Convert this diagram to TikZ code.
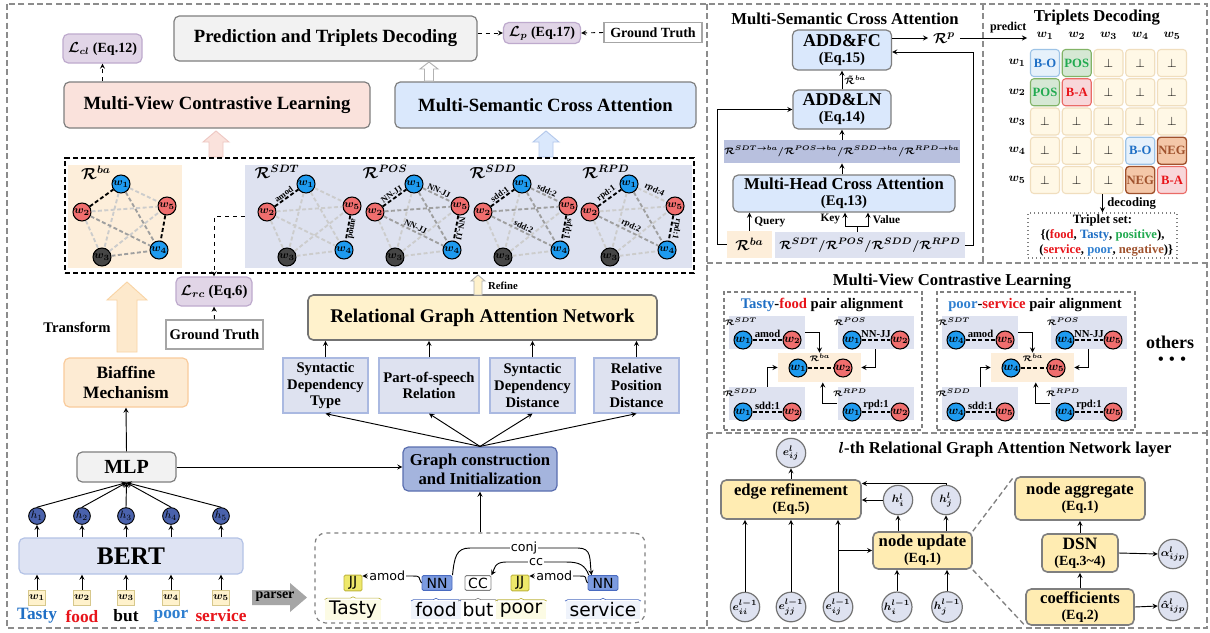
\documentclass[tikz,border=0pt]{standalone}
\usepackage{amsmath,amssymb,bm}
\usepackage{fontspec}
\setmainfont{Liberation Serif}
\newfontfamily\parsefont{DejaVu Sans}
\usepackage{tikz}
\usetikzlibrary{arrows, positioning, decorations.pathreplacing}

\definecolor{boxgray}{RGB}{127,127,127}
\definecolor{panelgray}{RGB}{140,140,140}
\definecolor{predgray}{RGB}{242,242,242}
\definecolor{losspurple}{RGB}{225,213,231}
\definecolor{lossborder}{RGB}{190,170,205}
\definecolor{mvclpink}{RGB}{250,226,220}
\definecolor{pinkborder}{RGB}{238,200,195}
\definecolor{mscablue}{RGB}{218,232,252}
\definecolor{blueborder}{RGB}{180,200,235}
\definecolor{baorange}{RGB}{253,238,218}
\definecolor{relblue}{RGB}{222,226,240}
\definecolor{featborder}{RGB}{170,185,225}
\definecolor{rgatyellow}{RGB}{255,242,204}
\definecolor{gcblue}{RGB}{164,180,221}
\definecolor{gcborder}{RGB}{90,110,175}
\definecolor{barblue}{RGB}{184,192,222}
\definecolor{wblue}{RGB}{30,155,240}
\definecolor{wred}{RGB}{240,110,110}
\definecolor{wdark}{RGB}{70,70,70}
\definecolor{hblue}{RGB}{74,98,172}
\definecolor{wyellow}{RGB}{255,242,204}
\definecolor{wyborder}{RGB}{215,200,140}
\definecolor{bertblue}{RGB}{222,227,243}
\definecolor{bertborder}{RGB}{180,195,230}
\definecolor{biorange}{RGB}{253,235,211}
\definecolor{bioborder}{RGB}{249,203,156}
\definecolor{transorange}{RGB}{253,233,204}
\definecolor{transborder}{RGB}{249,212,165}
\definecolor{parsergray}{RGB}{166,166,166}
\definecolor{jjyellow}{RGB}{238,232,107}
\definecolor{jjborder}{RGB}{190,180,60}
\definecolor{nnblue}{RGB}{124,155,224}
\definecolor{nnborder}{RGB}{74,107,192}
\definecolor{tastyblue}{RGB}{31,111,197}
\definecolor{foodred}{RGB}{232,20,26}
\definecolor{poorblue}{RGB}{47,127,208}
\definecolor{posgreen}{RGB}{33,170,80}
\definecolor{negbrown}{RGB}{160,82,45}
\definecolor{negfill}{RGB}{244,199,168}
\definecolor{cellfill}{RGB}{255,248,230}
\definecolor{cellborder}{RGB}{240,222,190}
\definecolor{bofill}{RGB}{230,241,251}
\definecolor{boborder}{RGB}{157,195,230}
\definecolor{posfill}{RGB}{213,232,212}
\definecolor{posborder}{RGB}{130,179,102}
\definecolor{bafill}{RGB}{248,215,218}
\definecolor{baborder}{RGB}{234,107,102}
\definecolor{layeryellow}{RGB}{255,236,178}

\newcommand\fsz[2]{\fontsize{#1}{#2}\selectfont\bfseries}
\newcommand\fszm[2]{\fontsize{#1}{#2}\selectfont\bfseries\boldmath}
\newcommand\msz[2]{\fontsize{#1}{#2}\selectfont\boldmath}
\newcommand\RR[1]{\mathcal{R}^{#1}}

% box size given in pixels of the reference
\tikzset{sz/.style 2 args = {minimum width = #1*0.75pt, minimum height = #2*0.75pt}}

% hollow block arrow pointing up: style, x, tip, foot, half shaft, half head, head length
\newcommand\hollowup[7]{%
  \filldraw[#1] (#2-#5,#4) -- (#2-#5,#3+#7) -- (#2-#6,#3+#7) -- (#2,#3)
    -- (#2+#6,#3+#7) -- (#2+#5,#3+#7) -- (#2+#5,#4) -- cycle;}

% the five word nodes of one relation graph (#1 name prefix, #2 x of w2)
\newcommand\wgraph[2]{%
  \node[wn, fill=wblue] (#11) at (#2+39,184) {$w_1$};
  \node[wn, fill=wred]  (#12) at (#2,212)    {$w_2$};
  \node[wn, fill=wdark] (#13) at (#2+20,257) {$w_3$};
  \node[wn, fill=wblue] (#14) at (#2+77,250) {$w_4$};
  \node[wn, fill=wred]  (#15) at (#2+85,206) {$w_5$};}

\begin{document}
\begin{tikzpicture}[
    x = 0.75pt, y = -0.75pt, % one unit is one pixel, y grows downwards
    > = stealth, % arrow head style
    line width = 0.7pt,
    box/.style = {draw = boxgray, rounded corners = 4pt, line width = 0.9pt,
      align = center, inner sep = 0pt},
    gt/.style = {draw = gray!70, fill = white, line width = 1.2pt, inner sep = 0pt},
    panel/.style = {draw = panelgray, line width = 1.2pt, dash pattern = on 4.5pt off 2.5pt},
    subbox/.style = {draw = gray, line width = 1pt, dash pattern = on 3pt off 2pt, inner sep = 0pt},
    wn/.style = {circle, draw = black, line width = 0.8pt, minimum size = 13.5pt,
      inner sep = 0pt, font = \msz{8.5}{9}},
    mn/.style = {wn, minimum size = 13.5pt, font = \msz{9}{10}},
    hn/.style = {circle, draw = black, fill = hblue, minimum size = 12.5pt, inner sep = 0pt,
      font = \fontsize{8.5}{9}\selectfont},
    wbox/.style = {draw = wyborder, fill = wyellow, minimum width = 12.75pt,
      minimum height = 11.25pt, inner sep = 0pt, font = \msz{8}{9}},
    eLite/.style = {draw = gray!40, line width = 1.4pt, dash pattern = on 3pt off 1.8pt},
    eMid/.style = {eLite, draw = gray!75},
    eDark/.style = {eLite, draw = black},
    elab/.style = {font = \fsz{6.5}{7}, sloped, above, inner sep = 0.6pt},
    feat/.style = {draw = featborder, fill = relblue, line width = 0.9pt, minimum width = 63.75pt,
      minimum height = 41.25pt, align = center, inner sep = 0pt, font = \fsz{11}{12.5}},
    postag/.style = {draw, inner sep = 1pt, minimum height = 11pt, rounded corners = 1pt,
      font = \parsefont\fontsize{10.5}{11}\selectfont},
    wordlbl/.style = {inner xsep = 3pt, inner ysep = 1pt, font = \parsefont\fontsize{14}{15}\selectfont},
    parselbl/.style = {fill = white, inner sep = 0.8pt, font = \parsefont\fontsize{9.5}{10}\selectfont},
    tcell/.style = {draw = cellborder, fill = cellfill, rounded corners = 2.5pt, minimum width = 21.75pt,
      minimum height = 20.25pt, inner sep = 0pt, line width = 0.8pt, font = \fsz{9.5}{10}},
    minibg/.style = {fill = relblue, minimum width = 57pt, minimum height = 24.75pt, inner sep = 0pt},
    lbox/.style = {box, fill = layeryellow, line width = 1.2pt},
    circ/.style = {circle, draw = gray!90!black, fill = relblue, line width = 0.9pt,
      minimum size = 22pt, inner sep = 0pt, font = \msz{8.5}{9}}
  ]

  \path[use as bounding box, fill = white] (0,0) rectangle (1210,632);

  % panels
  \draw[panel] (7,4) rectangle (1207,628);
  \draw[panel] (707,4) -- (707,628) (707,263) -- (1207,263) (707,433) -- (1207,433)
    (983,4) -- (983,263);

  % top row of the left panel
  \node[box, sz = {79}{29}, fill = losspurple, draw = lossborder, font = \fszm{10.5}{12}] (lcl)
    at (102.5,48.5) {$\mathcal{L}_{cl}$ (Eq.12)};
  \node[box, sz = {303}{45}, fill = predgray, font = \fsz{14}{16}] (pred)
    at (325.5,38.5) {Prediction and Triplets Decoding};
  \node[box, sz = {77}{21}, fill = losspurple, draw = lossborder, font = \fszm{10.5}{12}] (lp)
    at (542,33) {$\mathcal{L}_{p}$ (Eq.17)};
  \node[gt, sz = {98}{20}, font = \fsz{10.5}{12}] (gttop) at (653,32.5) {Ground Truth};
  \draw[->, dashed] (pred.east |- lp.west) -- (lp.west);
  \draw[->, dashed] (gttop.west) -- (lp.east);

  \node[box, sz = {306}{46}, fill = mvclpink, font = \fsz{14}{16}] (mvcl)
    at (217,105) {Multi-View Contrastive Learning};
  \node[box, sz = {301}{46}, fill = mscablue, font = \fsz{14}{16}] (msca)
    at (545.5,105) {Multi-Semantic Cross Attention};
  \draw[->, dashed] (lcl |- mvcl.north) -- (lcl.south);
  \hollowup{fill = white, draw = gray!60}{429}{62}{81}{4.5}{9}{7}
  \hollowup{fill = mvclpink, draw = pinkborder}{216}{131}{157}{7}{13}{11}
  \hollowup{fill = mscablue, draw = blueborder}{546}{131}{157}{7}{13}{11}

  % relation graphs
  \node[fill = baorange, sz = {114}{103}, inner sep = 0pt] (babg) at (125,216.5) {};
  \node[fill = relblue, sz = {447}{103}, inner sep = 0pt] (relbg) at (468.5,216.5) {};
  \node[draw = black, dash pattern = on 4pt off 2pt, line width = 1.1pt, sz = {629}{115},
    inner sep = 0pt] (strip) at (379.5,215.5) {};

  \wgraph{ba}{82}
  \wgraph{sdt}{267}
  \wgraph{pos}{375}
  \wgraph{sdd}{483}
  \wgraph{rpd}{590}

  \node[font = \msz{11.5}{12}] (lba) at (96,173) {$\RR{ba}$};
  \node[font = \msz{11.5}{12}] (lsdt) at (277,172) {$\RR{SDT}$};
  \node[font = \msz{11.5}{12}] (lpos) at (385,172) {$\RR{POS}$};
  \node[font = \msz{11.5}{12}] (lsdd) at (493,172) {$\RR{SDD}$};
  \node[font = \msz{11.5}{12}] (lrpd) at (606,172) {$\RR{RPD}$};

  \draw[eLite] (ba1) -- (ba3) (ba1) -- (ba5) (ba2) -- (ba3) (ba2) -- (ba5) (ba3) -- (ba5);
  \draw[eMid] (ba1) -- (ba4) (ba2) -- (ba4) (ba3) -- (ba4);
  \draw[eDark] (ba2) -- (ba1) (ba5) -- (ba4);

  \draw[eLite] (sdt1) -- (sdt3) (sdt1) -- (sdt4) (sdt1) -- (sdt5) (sdt2) -- (sdt3)
    (sdt2) -- (sdt4) (sdt2) -- (sdt5) (sdt3) -- (sdt4) (sdt3) -- (sdt5);
  \draw[eDark] (sdt2) -- node[elab] {amod} (sdt1)
    (sdt5) -- node[elab, allow upside down] {amod} (sdt4);

  \draw[eLite] (pos1) -- (pos3) (pos2) -- (pos3) (pos3) -- (pos4) (pos3) -- (pos5);
  \draw[eMid] (pos1) -- (pos4) (pos2) -- (pos5)
    (pos1) -- node[elab] {NN-JJ} (pos5) (pos2) -- node[elab] {NN-JJ} (pos4);
  \draw[eDark] (pos2) -- node[elab] {NN-JJ} (pos1)
    (pos5) -- node[elab, allow upside down] {NN-JJ} (pos4);

  \draw[eLite] (sdd1) -- (sdd3) (sdd2) -- (sdd3) (sdd3) -- (sdd4) (sdd3) -- (sdd5);
  \draw[eMid] (sdd1) -- (sdd4) (sdd2) -- (sdd5)
    (sdd1) -- node[elab] {sdd:2} (sdd5) (sdd2) -- node[elab] {sdd:2} (sdd4);
  \draw[eDark] (sdd2) -- node[elab] {sdd:1} (sdd1)
    (sdd5) -- node[elab, allow upside down] {sdd:1} (sdd4);

  \draw[eLite] (rpd1) -- (rpd3) (rpd2) -- (rpd3) (rpd3) -- (rpd4) (rpd3) -- (rpd5)
    (rpd2) -- (rpd5) (rpd1) -- node[elab] {rpd:4} (rpd5);
  \draw[eMid] (rpd1) -- (rpd4) (rpd2) -- node[elab] {rpd:2} (rpd4);
  \draw[eDark] (rpd2) -- node[elab] {rpd:1} (rpd1)
    (rpd5) -- node[elab, allow upside down] {rpd:1} (rpd4);

  % losses under the graphs
  \node[box, sz = {76}{29}, fill = losspurple, draw = lossborder, font = \fszm{11}{12}] (lrc)
    at (214,291.5) {$\mathcal{L}_{rc}$ (Eq.6)};
  \node[gt, sz = {97}{29}, font = \fsz{11}{12}] (gtmid) at (214.5,334.5) {Ground Truth};
  \draw[->, dashed] (gtmid.north) -- (lrc.south);
  \draw[->, dashed] (relbg.west) -| (lrc.north);

  % encoder column
  \hollowup{fill = transorange, draw = transborder}{127}{282}{352}{10}{20}{18}
  \node[font = \fsz{11}{12}] (transform) at (77,327) {Transform};
  \node[box, sz = {124}{49}, fill = biorange, draw = bioborder, font = \fsz{13}{15}] (biaf)
    at (126,382.5) {Biaffine\\Mechanism};
  \node[box, sz = {99}{30}, fill = predgray, font = \fsz{15}{16}] (mlp) at (126.5,467) {MLP};
  \draw[->] (mlp.north) -- (biaf.south);
  \node[box, sz = {224}{36}, fill = bertblue, draw = bertborder, font = \fsz{19}{20}] (bert)
    at (131,556) {BERT};

  \foreach \i/\x in {1/37, 2/82, 3/126, 4/171, 5/221} {
    \node[hn] (h\i) at (\x,516) {$h_\i$};
    \node[wbox] (w\i) at (\x,597.5) {$w_\i$};
    \draw[->] (h\i.north) -- (mlp.south);
    \draw[->] (bert.north -| h\i) -- (h\i.south);
    \draw[->] (w\i.north) -- (w\i |- bert.south);
  }
  \node[font = \fsz{13}{14}, text = tastyblue] (t1) at (37,616) {Tasty};
  \node[font = \fsz{13}{14}, text = foodred] (t2) at (82,616) {food};
  \node[font = \fsz{13}{14}] (t3) at (126,616) {but};
  \node[font = \fsz{13}{14}, text = poorblue] (t4) at (171,616) {poor};
  \node[font = \fsz{13}{14}, text = foodred] (t5) at (221,616) {service};

  \fill[parsergray] (252,590) -- (290,590) -- (290,583) -- (307,597.5) -- (290,612)
    -- (290,605) -- (252,605) -- cycle;
  \node[font = \fsz{10.5}{12}] (parser) at (275,597) {parser};

  % graph branch
  \node[box, sz = {349}{45}, fill = rgatyellow, draw = gray!90!black, line width = 1.2pt,
    font = \fsz{14.5}{16}] (rgat) at (482.5,317.5) {Relational Graph Attention Network};
  \hollowup{fill = rgatyellow, draw = gray!60}{478}{275}{295}{4}{7}{6}
  \node[font = \fsz{8}{9}] (refine) at (503,286) {Refine};

  \node[feat] (fsdt) at (325.5,385.5) {Syntactic\\Dependency\\Type};
  \node[feat, minimum width = 75pt] (fpos) at (429,385.5) {Part-of-speech\\Relation};
  \node[feat] (fsdd) at (532.5,385.5) {Syntactic\\Dependency\\Distance};
  \node[feat] (frpd) at (636.5,385.5) {Relative\\Position\\Distance};
  \node[box, sz = {154}{44}, fill = gcblue, draw = gcborder, font = \fsz{12.5}{14}] (gc)
    at (480,469) {Graph construction\\and Initialization};
  \foreach \f in {fsdt, fpos, fsdd, frpd} {
    \draw[->] (\f.north) -- (\f.north |- rgat.south);
    \draw[->] (gc.north) -- (\f.south);
  }
  \draw[->] (mlp.east) -- (gc.west |- mlp.east);

  % dependency parse
  \node[draw = gray, dashed, rounded corners = 8pt, line width = 0.9pt, sz = {330}{90},
    inner sep = 0pt] (parse) at (480,578) {};
  \draw[->] (parse.north) -- (gc.south);
  \node[postag, fill = jjyellow, draw = jjborder, minimum width = 13.5pt] (jj1) at (353,583) {JJ};
  \node[postag, fill = nnblue, draw = nnborder, minimum width = 22.5pt] (nn1) at (437,583) {NN};
  \node[postag, fill = white, draw = gray, minimum width = 19.5pt] (cc) at (478,583) {CC};
  \node[postag, fill = jjyellow, draw = jjborder, minimum width = 13.5pt] (jj2) at (520,583) {JJ};
  \node[postag, fill = nnblue, draw = nnborder, minimum width = 22.5pt] (nn2) at (603,583) {NN};
  \node[wordlbl, fill = jjyellow!18] (pw1) at (353,610) {Tasty};
  \node[wordlbl, fill = nnblue!12] (pw2) at (436,610) {food};
  \node[wordlbl] (pw3) at (478,610) {but};
  \node[wordlbl, fill = jjyellow!18] (pw4) at (521,610) {poor};
  \node[wordlbl, fill = nnblue!12] (pw5) at (603,610) {service};
  \foreach \p/\c in {pw1/jjborder, pw2/nnborder, pw3/gray, pw4/jjborder, pw5/nnborder}
    \draw[\c, line width = 0.5pt, decorate, decoration = {brace, amplitude = 2pt}]
      (\p.north west) -- (\p.north east);
  \draw[->] (nn1.west) .. controls +(-4,-6) and +(10,0) .. (412,576)
    -- node[parselbl] {amod} (jj1.east |- 0,576);
  \draw[->] (nn2.west) .. controls +(-4,-6) and +(10,0) .. (579,576)
    -- node[parselbl] {amod} (jj2.east |- 0,576);
  \draw[->] (nn1.north east) .. controls +(2,-18) and +(-14,0) .. (470,548)
    -- node[parselbl] {conj} (578,548) .. controls +(14,0) and +(-2,-16) .. ([xshift = 3pt]nn2.north west);
  \draw[->] ([xshift = 1pt]nn2.north west) .. controls +(-4,-10) and +(14,0) .. (566,562)
    -- node[parselbl] {cc} (506,562) .. controls +(-12,0) and +(3,-6) .. (cc.north east);

  % multi-semantic cross attention panel
  \node[font = \fsz{12.5}{14}] (mscat) at (845,19) {Multi-Semantic Cross Attention};
  \node[box, sz = {99}{40}, fill = mscablue] (addfc) at (842,50)
    {\fsz{13.5}{14}ADD\&FC\\\fsz{11}{13}(Eq.15)};
  \node[box, sz = {98}{39}, fill = mscablue] (addln) at (842,109.5)
    {\fsz{13.5}{14}ADD\&LN\\\fsz{11}{13}(Eq.14)};
  \node[fill = barblue, sz = {233}{23}, inner sep = 0pt, font = \msz{7}{8}] (bar)
    at (842,151.5) {$\RR{SDT\to ba}/\RR{POS\to ba}/\RR{SDD\to ba}/\RR{RPD\to ba}$};
  \node[box, sz = {222}{37}, fill = mscablue] (mhca) at (844,193.5)
    {\fsz{12.5}{13}Multi-Head Cross Attention\\\fsz{11}{13}(Eq.13)};
  \node[fill = baorange, sz = {45}{27}, inner sep = 0pt, font = \msz{11}{12}] (rba)
    at (749.5,244.5) {$\RR{ba}$};
  \node[fill = relblue, sz = {190}{26}, inner sep = 0pt, font = \msz{9.5}{10}] (kv)
    at (870,245) {$\RR{SDT}/\RR{POS}/\RR{SDD}/\RR{RPD}$};
  \node[font = \msz{11}{12}] (rp) at (944,38) {$\RR{p}$};
  \coordinate (predtip) at (1027,38);
  \coordinate (kvsplit) at (857,226);
  \coordinate (keyc) at (845,226);
  \coordinate (valc) at (868,226);

  \draw[->] (addfc.east |- rp) -- (rp.west);
  \draw[->] (rp.east) -- node[pos = 0.72, above, font = \fsz{9}{10}] {predict} (predtip);
  \draw[->] (kv.east) -| (973,52) -- (addfc.east |- 0,52);
  \draw[->] (rba.west) -- ++(-9,0) |- (addln.west);
  \draw[->] (addln.north) -- node[right, inner sep = 1.5pt, font = \msz{7.5}{8}]
    {$\tilde{\mathcal{R}}^{ba}$} (addfc.south);
  \draw[->] (bar.north) -- (addln.south);
  \draw[->] (bar.south |- mhca.north) -- (bar.south);
  \draw[->] (rba.north) -- node[right, font = \fsz{8.5}{9}] {Query} (rba.north |- mhca.south);
  \draw (kvsplit |- kv.north) -- (kvsplit);
  \draw[->] (kvsplit) -- (keyc) -- node[left, font = \fsz{8.5}{9}] {Key} (keyc |- mhca.south);
  \draw[->] (kvsplit) -- (valc) -- node[right, font = \fsz{8.5}{9}] {Value} (valc |- mhca.south);

  % triplets decoding panel
  \node[font = \fsz{12.5}{14}] (tdt) at (1097,18) {Triplets Decoding};
  \foreach \k in {1,...,5} {
    \node[font = \msz{9.5}{10}] (col\k) at ({1045+31.75*(\k-1)},36) {$w_\k$};
    \node[font = \msz{9.5}{10}] (row\k) at (1017,{63+29.25*(\k-1)}) {$w_\k$};
  }
  \foreach \row/\col in {1/3,1/4,1/5,2/3,2/4,2/5,3/1,3/2,3/3,3/4,3/5,4/1,4/2,4/3,5/1,5/2,5/3}
    \node[tcell] (m\row\col) at ({1045+31.75*(\col-1)},{63+29.25*(\row-1)}) {$\perp$};
  \node[tcell, fill = bofill, draw = boborder, text = tastyblue] (m11) at (1045,63) {B-O};
  \node[tcell, fill = posfill, draw = posborder, text = posgreen] (m12) at (1076.75,63) {POS};
  \node[tcell, fill = posfill, draw = posborder, text = posgreen] (m21) at (1045,92.25) {POS};
  \node[tcell, fill = bafill, draw = baborder, text = foodred] (m22) at (1076.75,92.25) {B-A};
  \node[tcell, fill = bofill, draw = boborder, text = tastyblue] (m44) at (1140.25,150.75) {B-O};
  \node[tcell, fill = negfill, draw = negbrown, text = negbrown, line width = 1pt] (m45)
    at (1172,150.75) {NEG};
  \node[tcell, fill = negfill, draw = negbrown, text = negbrown, line width = 1pt] (m54)
    at (1140.25,180) {NEG};
  \node[tcell, fill = bafill, draw = baborder, text = foodred] (m55) at (1172,180) {B-A};
  \node[draw = gray, dotted, line width = 1pt, sz = {149}{45}, align = center, inner sep = 0pt,
    font = \fsz{9.5}{11}] (tset) at (1102.5,235.5)
    {Triplet set:\\\{(\textcolor{foodred}{food}, \textcolor{tastyblue}{Tasty}, \textcolor{posgreen}{positive}),\\
     \hspace{0.6em}(\textcolor{foodred}{service}, \textcolor{poorblue}{poor}, \textcolor{negbrown}{negative})\}};
  \draw[->] (tset.north |- m53.south) -- node[right, font = \fsz{9.5}{10}] {decoding} (tset.north);

  % multi-view contrastive learning panel
  \node[font = \fsz{12.5}{14}] (mvclt) at (952,282) {Multi-View Contrastive Learning};
  \node[subbox, sz = {198}{138}] (subL) at (823,361) {};
  \node[subbox, sz = {198}{138}] (subR) at (1036,361) {};
  \node[font = \fsz{11}{12}] (subLt) at (822,305)
    {\textcolor{tastyblue}{Tasty}-\textcolor{foodred}{food} pair alignment};
  \node[font = \fsz{11}{12}] (subRt) at (1035,305)
    {\textcolor{poorblue}{poor}-\textcolor{foodred}{service} pair alignment};
  \foreach \s/\dx/\a/\b in {L/0/1/2, R/213/4/5} {
    \node[minibg] (sdt\s) at (767+\dx,332.5) {};
    \node[minibg] (pos\s) at (875.5+\dx,332.5) {};
    \node[minibg, fill = baorange, minimum width = 62.25pt, minimum height = 21.75pt] (ba\s)
      at (819.5+\dx,367.5) {};
    \node[minibg] (sdd\s) at (767+\dx,403.5) {};
    \node[minibg] (rpd\s) at (875.5+\dx,403.5) {};
    \node[font = \msz{6.5}{7}] (lsdt\s) at (741+\dx,322) {$\RR{SDT}$};
    \node[font = \msz{6.5}{7}] (lpos\s) at (850+\dx,322) {$\RR{POS}$};
    \node[font = \msz{6.5}{7}] (lba\s) at (820+\dx,358) {$\RR{ba}$};
    \node[font = \msz{6.5}{7}] (lsdd\s) at (741+\dx,393) {$\RR{SDD}$};
    \node[font = \msz{6.5}{7}] (lrpd\s) at (850+\dx,393) {$\RR{RPD}$};
    \node[mn, fill = wblue] (sdt\s1) at (743+\dx,340) {$w_{\a}$};
    \node[mn, fill = wred] (sdt\s2) at (792+\dx,340) {$w_{\b}$};
    \node[mn, fill = wblue] (pos\s1) at (852+\dx,340) {$w_{\a}$};
    \node[mn, fill = wred] (pos\s2) at (900+\dx,340) {$w_{\b}$};
    \node[mn, fill = wblue] (ba\s1) at (798+\dx,368) {$w_{\a}$};
    \node[mn, fill = wred] (ba\s2) at (843+\dx,368) {$w_{\b}$};
    \node[mn, fill = wblue] (sdd\s1) at (743+\dx,412) {$w_{\a}$};
    \node[mn, fill = wred] (sdd\s2) at (792+\dx,412) {$w_{\b}$};
    \node[mn, fill = wblue] (rpd\s1) at (852+\dx,412) {$w_{\a}$};
    \node[mn, fill = wred] (rpd\s2) at (900+\dx,412) {$w_{\b}$};
    \draw[eDark] (sdt\s1) -- node[above, font = \fsz{8}{9}, inner sep = 1pt] {amod} (sdt\s2);
    \draw[eDark] (pos\s1) -- node[above, font = \fsz{8}{9}, inner sep = 1pt] {NN-JJ} (pos\s2);
    \draw[eDark] (ba\s1) -- (ba\s2);
    \draw[eDark] (sdd\s1) -- node[above, font = \fsz{8}{9}, inner sep = 1pt] {sdd:1} (sdd\s2);
    \draw[eDark] (rpd\s1) -- node[above, font = \fsz{8}{9}, inner sep = 1pt] {rpd:1} (rpd\s2);
    \draw[->] (sdt\s.east) -| (ba\s.north);
    \draw[->] (pos\s.south) |- (ba\s.east);
    \draw[->] (sdd\s.north) |- (ba\s.west);
    \draw[->] (rpd\s.west) -| ([xshift = 2.5pt]ba\s.south);
  }
  \node[font = \fsz{13.5}{15}] (others) at (1170,342) {others};
  \node[font = \fsz{12}{13}] (dots) at (1172,361) {\textbullet\hspace{0.35em}\textbullet\hspace{0.35em}\textbullet};

  % l-th relational graph attention network layer panel
  \node[font = \fszm{12.5}{14}] (layert) at (1005,450)
    {$l$-th Relational Graph Attention Network layer};
  \node[circ] (eij) at (791,453) {$e^{l}_{ij}$};
  \node[lbox, sz = {140}{39}] (eref) at (791,499.5) {\fsz{12.5}{13}edge refinement\\\fsz{10.5}{12}(Eq.5)};
  \node[circ] (hil) at (898,500) {$h^{l}_{i}$};
  \node[circ] (hjl) at (946,500) {$h^{l}_{j}$};
  \node[lbox, sz = {99}{37}] (nupd) at (922.5,550.5) {\fsz{12.5}{13}node update\\\fsz{10.5}{12}(Eq.1)};
  \node[circ] (eii0) at (745,607) {$e^{l-1}_{ii}$};
  \node[circ] (ejj0) at (791,607) {$e^{l-1}_{jj}$};
  \node[circ] (eij0) at (838,607) {$e^{l-1}_{ij}$};
  \node[circ] (hi0) at (897,607) {$h^{l-1}_{i}$};
  \node[circ] (hj0) at (947,607) {$h^{l-1}_{j}$};
  \node[lbox, sz = {130}{43}] (nagg) at (1080,498.5) {\fsz{12.5}{13}node aggregate\\\fsz{10.5}{12}(Eq.1)};
  \node[lbox, sz = {76}{38}] (dsn) at (1080,553) {\fsz{13}{14}DSN\\\fsz{10.5}{12}(Eq.3\textasciitilde4)};
  \node[lbox, sz = {108}{36}] (coef) at (1080,607) {\fsz{12.5}{13}coefficients\\\fsz{10.5}{12}(Eq.2)};
  \node[circ] (alp) at (1173,554) {$\alpha^{l}_{ijp}$};
  \node[circ] (alph) at (1173,606) {$\hat{\alpha}^{l}_{ijp}$};

  \draw[->] (eref.north) -- (eij.south);
  \draw[->] (hil.west) -- (eref.east |- hil.west);
  \draw[->] (hjl.north) |- ([yshift = 12pt]eref.east);
  \draw[->] (hil |- nupd.north) -- (hil.south);
  \draw[->] (hjl |- nupd.north) -- (hjl.south);
  \foreach \n in {eii0, ejj0, eij0}
    \draw[->] (\n.north) -- (\n |- eref.south);
  \draw[->] (eij0 |- nupd.west) -- (nupd.west);
  \draw[->] (hi0.north) -- (hi0 |- nupd.south);
  \draw[->] (hj0.north) -- (hj0 |- nupd.south);
  \draw[->] (coef.north) -- (dsn.south);
  \draw[->] (dsn.north) -- (nagg.south);
  \draw[->] (dsn.east) -- (alp.west);
  \draw[->] (coef.east) -- (alph.west);
  \draw[draw = gray, line width = 1pt, dash pattern = on 4pt off 2.5pt]
    (nupd.north east) -- (nagg.north west) (nupd.south east) -- (coef.south west);

\end{tikzpicture}
\end{document}
